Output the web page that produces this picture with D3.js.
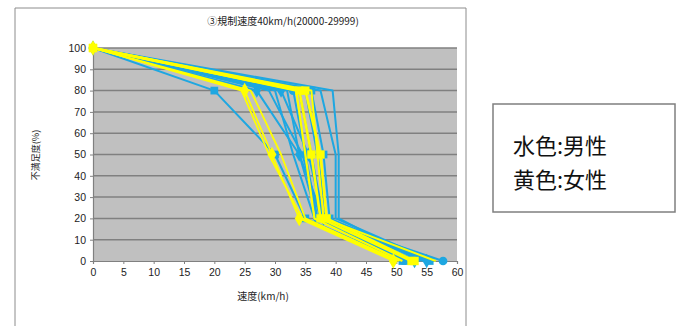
<!DOCTYPE html>
<html><head><meta charset="utf-8">
<script src="https://cdn.jsdelivr.net/npm/d3@7"></script>
<style>body{margin:0;background:#fff}svg{display:block}</style>
</head><body>
<svg id="c" width="683" height="326"></svg>
<script>
const title = "③規制速度40km/h(20000-29999)";
const xLabel = "速度(km/h)";
const yLabel = "不満足度(%)";
const levels = [100, 80, 50, 20, 0];
const xTicks = [0,5,10,15,20,25,30,35,40,45,50,55,60];
const yTicks = [0,10,20,30,40,50,60,70,80,90,100];
// speeds at each dissatisfaction level (men = blue)
const men = [
  [0, 20, 30, 35, 51],
  [0, 27, 34, 38, 55],
  [0, 33, 35, 37, 57.7],
  [0, 37.5, 40, 40, 56],
  [0, 39.5, 40.5, 40.5, 54],
  [0, 34, 36, 38, 51.5],
  [0, 32, 34, 37, 53.5],
  [0, 36, 38, 39, 55.5],
  [0, 30, 33, 36.5, 52],
  [0, 35, 37, 38.5, 56.5],
  [0, 29, 34.5, 37.5, 54.5],
  [0, 31, 35.5, 38, 53]
];
const menMarkers = ["square","diamond","circle","none","none","square","none","square","none","none","none","diamond"];
// women = yellow
const women = [
  [0, 25, 29.5, 34, 49.5],
  [0, 24.5, 29, 34.5, 50],
  [0, 34, 36, 37.5, 52.5],
  [0, 35, 37.5, 38.5, 53],
  [0, 33.5, 35, 36.5, 51],
  [0, 36, 37, 38, 56.5],
  [0, 26, 31, 35, 50.5]
];
const womenMarkers = ["diamond","none","square","square","none","none","none"];
const womenWidths = [1.8, 1.8, 2.6, 2.6, 2.2, 2, 1.8];
const legendLines = ["水色:男性", "黄色:女性"];

const svg = d3.select("#c");
const L = 93, R = 457, T = 48, B = 261;
const x = d3.scaleLinear().domain([0,60]).range([L,R]);
const y = d3.scaleLinear().domain([0,100]).range([B,T]);

// chart frame
svg.append("path").attr("d","M15,330 L15,8 L466,8 L466,330").attr("fill","none").attr("stroke","#8c8c8c").attr("stroke-width",1);

// plot area
svg.append("rect").attr("x",L).attr("y",T).attr("width",R-L).attr("height",B-T).attr("fill","#c0c0c0");
svg.append("g").selectAll("line").data(yTicks.filter(d=>d>0)).join("line")
  .attr("x1",L).attr("x2",R).attr("y1",d=>y(d)).attr("y2",d=>y(d))
  .attr("stroke","#808080").attr("stroke-width",1.5);

// axes
const ax = svg.append("g").attr("transform",`translate(0,${B})`).call(d3.axisBottom(x).tickValues(xTicks).tickSize(3).tickPadding(5));
const ay = svg.append("g").attr("transform",`translate(${L},0)`).call(d3.axisLeft(y).tickValues(yTicks).tickSize(3).tickPadding(4));
[ax, ay].forEach(g=>{
  g.select(".domain").attr("stroke","#808080").attr("stroke-width",1.2);
  g.selectAll(".tick line").attr("stroke","#808080");
  g.selectAll("text").attr("font-family","Liberation Sans, Arial, sans-serif").attr("font-size",10.5).attr("fill","#222");
});

const line = d3.line().x(d=>x(d[0])).y(d=>y(d[1]));
function drawSeries(data, markers, color, widths, msize){
  data.forEach((s,i)=>{
    const pts = s.map((v,j)=>[v, levels[j]]);
    svg.append("path").attr("d",line(pts)).attr("fill","none").attr("stroke",color).attr("stroke-width",widths[i]).attr("stroke-linejoin","round");
    const m = markers[i];
    if(m==="none") return;
    const sym = m==="square"?d3.symbolSquare: m==="diamond"?d3.symbolDiamond: d3.symbolCircle;
    svg.append("g").selectAll("path").data(pts).join("path")
      .attr("transform",d=>`translate(${x(d[0])},${y(d[1])})`)
      .attr("d",d3.symbol().type(sym).size(msize))
      .attr("fill",color);
  });
}
drawSeries(men, menMarkers, "#1ea7e1", men.map(()=>2), 60);
drawSeries(women, womenMarkers, "#ffff00", womenWidths, 70);

// titles
svg.append("text").attr("x",283).attr("y",25).attr("text-anchor","middle")
  .attr("font-family","Noto Sans CJK JP, sans-serif").attr("font-size",10).attr("fill","#222").text(title);
svg.append("text").attr("x",263).attr("y",300).attr("text-anchor","middle")
  .attr("font-family","Noto Sans CJK JP, sans-serif").attr("font-size",10).attr("fill","#222").text(xLabel);
svg.append("text").attr("transform","translate(39,155) rotate(-90)").attr("text-anchor","middle")
  .attr("font-family","Noto Sans CJK JP, sans-serif").attr("font-size",9).attr("fill","#222").text(yLabel);

// legend box
svg.append("rect").attr("x",493).attr("y",104).attr("width",182).attr("height",108)
  .attr("fill","#fff").attr("stroke","#7f7f7f").attr("stroke-width",1.5);
svg.append("g").selectAll("text").data(legendLines).join("text")
  .attr("x",513).attr("y",(d,i)=>154+i*34)
  .attr("font-family","Noto Sans CJK JP, sans-serif").attr("font-size",22).attr("fill","#111").text(d=>d);
</script>
</body></html>
